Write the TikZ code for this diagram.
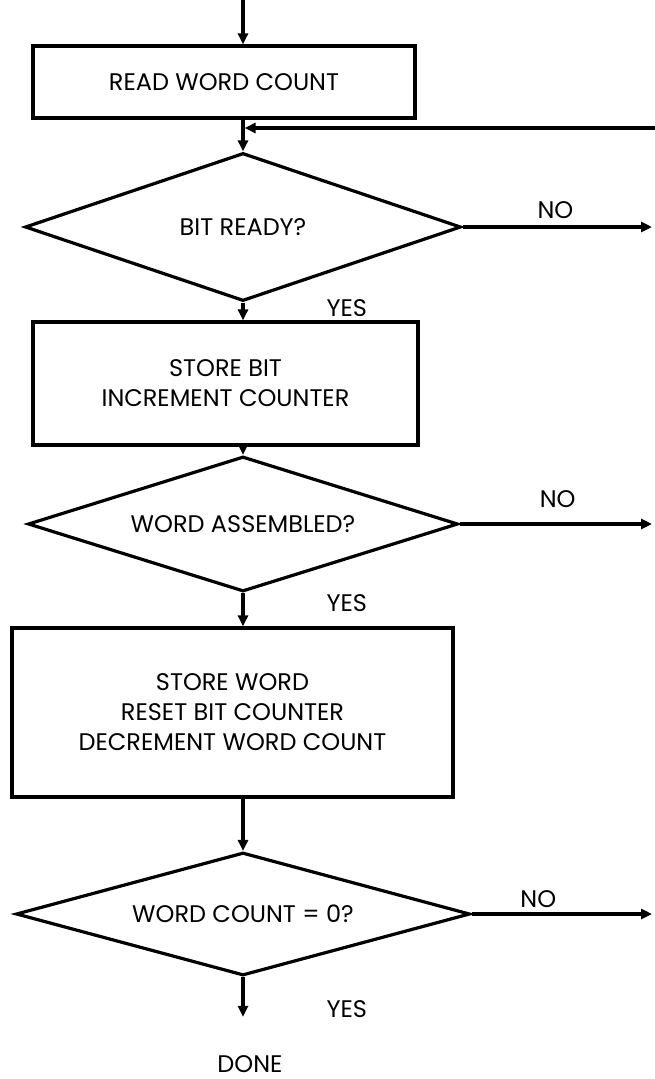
\documentclass[tikz,border=0pt]{standalone}
\usepackage{fontspec}
\setmainfont{Poppins}
\usetikzlibrary{shapes.geometric, arrows.meta}

\begin{document}
\begin{tikzpicture}[x=1pt, y=-1pt, line width=3.2pt,
    every node/.style={font=\fontsize{24}{30}\selectfont},
    procbox/.style={draw, rectangle, align=center, inner sep=0pt},
    decision/.style={draw, diamond, aspect=4, inner sep=0pt},
    flow/.style={-{Triangle[length=11pt, width=10pt]}},
    tag/.style={inner sep=2pt}]
  \useasboundingbox (0,0) rectangle (655,1079);

  \coordinate (entry) at (243,0);
  \coordinate (exit) at (652,0);
  \coordinate (back) at (655,128);

  \node[procbox, minimum width=382pt, minimum height=72pt] (read) at (224,82) {READ WORD COUNT};
  \node[decision, minimum width=436pt, minimum height=148pt] (bit) at (243,227) {BIT READY?};
  \node[procbox, minimum width=385pt, minimum height=123pt] (store) at (225.5,383.5) {STORE BIT\\INCREMENT COUNTER};
  \node[decision, minimum width=430pt, minimum height=135pt] (asm) at (243,524) {WORD ASSEMBLED?};
  \node[procbox, minimum width=441pt, minimum height=169pt] (word) at (232.5,712.5) {STORE WORD\\RESET BIT COUNTER\\DECREMENT WORD COUNT};
  \node[decision, minimum width=454pt, minimum height=123pt] (zero) at (243,914) {WORD COUNT = 0?};
  \node[tag, inner sep=1pt] (done) at (250,1064) {DONE};

  \draw[flow] (entry) -- (read.north -| entry);
  \draw[flow] (read.south -| bit.north) -- (bit.north);
  \draw[flow, shorten >=1.6pt] (back) -- (back -| bit.north);
  \draw[flow] (bit.east) -- (bit.east -| exit) node[tag, above=5pt, pos=0.49] {NO};
  \draw[flow] (bit.south) -- (store.north -| bit.south) node[tag, right=80pt, pos=0.3] {YES};
  \draw[flow] (store.south -| asm.north) -- (asm.north);
  \draw[flow] (asm.east) -- (asm.east -| exit) node[tag, above=13pt, pos=0.51] {NO};
  \draw[flow] (asm.south) -- (word.north -| asm.south) node[tag, right=80pt, pos=0.3] {YES};
  \draw[flow] (word.south -| zero.north) -- (zero.north);
  \draw[flow] (zero.east) -- (zero.east -| exit) node[tag, above=3pt, pos=0.37] {NO};
  \draw[flow, shorten >=36pt] (zero.south) -- (zero.south |- done.north) node[tag, right=80pt, pos=0.42] {YES};
\end{tikzpicture}
\end{document}
